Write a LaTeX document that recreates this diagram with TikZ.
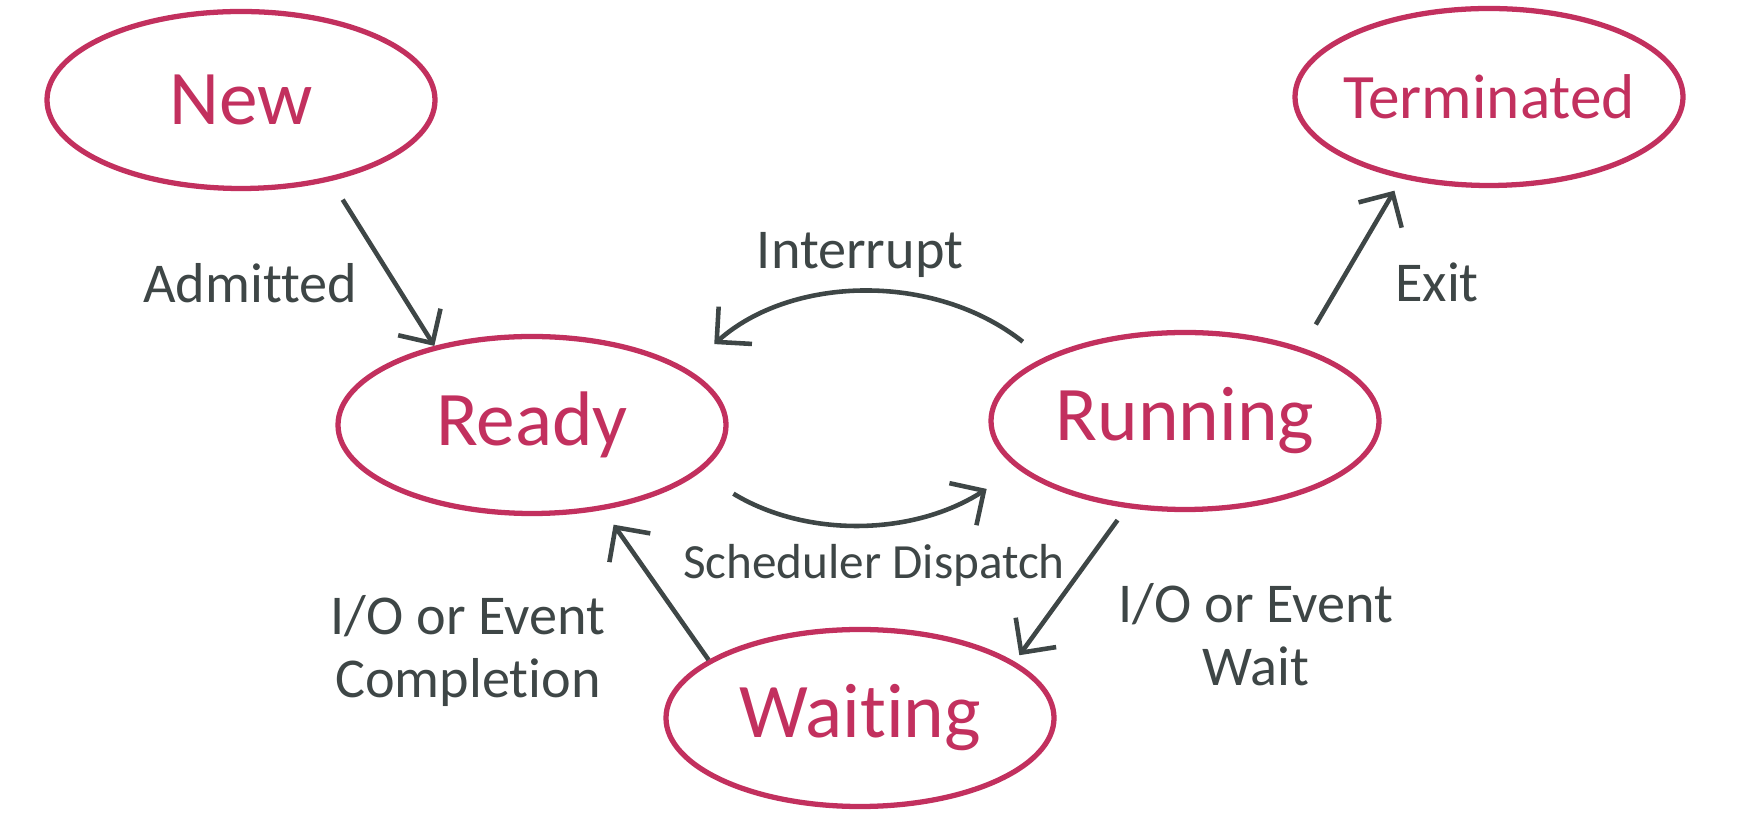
\documentclass[tikz,border=0pt]{standalone}
\usepackage{fontspec}
\setmainfont[Ligatures=NoCommon]{Carlito}
\usetikzlibrary{shapes.geometric, arrows.meta}

\definecolor{statepink}{HTML}{C2305E}
\definecolor{inkgray}{HTML}{3E4646}

\begin{document}
\begin{tikzpicture}[
    state/.style={ellipse, draw=statepink, line width=1.5pt, text=statepink,
                  font=\fontsize{22}{26}\selectfont, minimum width=3.88cm,
                  minimum height=1.77cm, inner xsep=-4mm, inner ysep=0pt},
    lbl/.style={text=inkgray, font=\fontsize{16}{18}\selectfont, align=center},
    arrow/.style={draw=inkgray, line width=1.3pt,
                  -{Straight Barb[length=2.5mm, width=5mm]}}
]
    \useasboundingbox (0,0) rectangle (17.38,8.20);

    % states
    \node[state]                                    (new)   at (2.41,7.20)  {New};
    \node[state, font=\fontsize{18}{22}\selectfont] (term)  at (14.89,7.23) {Terminated};
    \node[state]                                    (ready) at (5.32,3.95)  {Ready};
    \node[state]                                    (run)   at (11.85,3.99) {Running};
    \node[state]                                    (wait)  at (8.60,1.02)  {Waiting};

    % transition labels
    \node[lbl] (admitted)  at (2.50,5.37)  {Admitted};
    \node[lbl] (interrupt) at (8.60,5.65)  {Interrupt};
    \node[lbl] (exit)      at (14.37,5.38) {Exit};
    \node[lbl, font=\fontsize{14}{17}\selectfont] (dispatch) at (8.74,2.55) {Scheduler Dispatch};
    \node[lbl] (iodone)    at (4.68,1.69)  {I/O or Event\\Completion};
    \node[lbl] (iowait)    at (12.56,1.85) {I/O or Event\\Wait};

    % transitions
    \draw[arrow, shorten <=2.2mm] (new.-42) -- (ready.141);
    \draw[arrow, shorten <=2.6mm, shorten >=3.7mm] (run.156) to[bend right=40] (ready.20);
    \draw[arrow, shorten <=4mm, shorten >=3.7mm] (ready.-16) to[bend right=32] (run.196);
    \draw[arrow, shorten <=2.7mm, shorten >=1.4mm] (run.32) -- (term.-137);
    \draw[arrow, shorten <=1.5mm, shorten >=0.8mm] (run.-124) -- (wait.20);
    \draw[arrow, shorten >=1.8mm] (wait.159) -- (ready.-50);
\end{tikzpicture}
\end{document}
